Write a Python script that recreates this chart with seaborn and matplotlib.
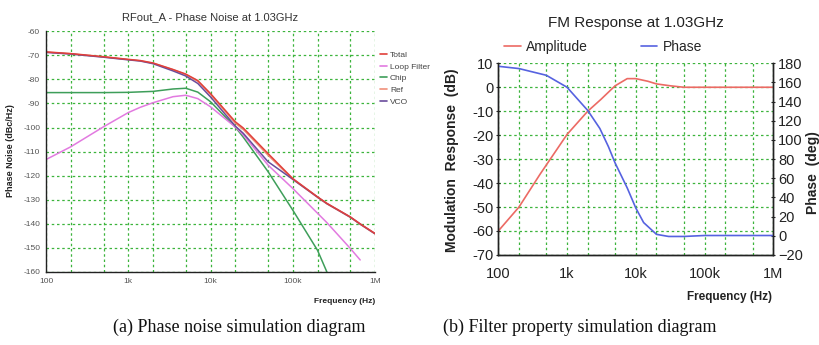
import seaborn as sns
import matplotlib.pyplot as plt
import numpy as np
import pandas as pd
from matplotlib.ticker import FixedLocator, NullFormatter
from matplotlib.lines import Line2D

# ---- data: phase noise (dBc/Hz) vs offset frequency (Hz)
pn_freq = [100, 200, 500, 1000, 1400, 2000, 3500, 5000, 7000, 10000, 20000,
           25000, 50000, 100000, 200000, 260000, 500000, 660000, 1000000]
pn_total = [-68.6, -69.3, -70.6, -71.7, -72.2, -73.2, -75.9, -77.8, -80.5, -85.9,
            -97.6, -100.2, -110.8, -121.2, -128.8, -131.5, -137.1, -140.0, -144.0]
pn_loop = [-113.3, -108.0, -99.7, -93.8, -91.6, -89.7, -87.2, -86.6, -88.0, -91.4,
           -99.8, -103.0, -115.6, -125.3, -135.6, -139.5, -150.2, -155.0, None]
pn_chip = [-85.5, -85.5, -85.5, -85.4, -85.2, -85.0, -84.0, -83.7, -85.3, -89.3,
           -99.8, -104.0, -118.3, -134.3, -151.0, -160.0, None, None, None]
pn_ref = [-68.7, -69.4, -70.7, -71.8, -72.3, -73.3, -76.0, -78.0, -80.8, -86.3,
          -98.2, -100.8, -111.5, -121.5, -129.0, -131.7, -137.3, -140.2, -144.2]
pn_vco = [-68.8, -69.5, -70.8, -71.9, -72.4, -73.5, -76.5, -78.6, -81.7, -87.3,
          -99.4, -102.4, -114.2, -121.5, -128.9, -131.6, -137.2, -140.1, -144.1]
pn_names = ["Total", "Loop Filter", "Chip", "Ref", "VCO"]
pn_colors = ["#e0403a", "#e27ae0", "#3e9e5a", "#f0907a", "#6a4c9c"]

# ---- data: FM response
fm_freq = [100, 200, 405, 1000, 2000, 3100, 5000, 7500, 10000, 15000, 20000,
           32000, 50000, 100000, 1000000]
fm_amp = [-60.0, -50.0, -36.3, -19.7, -10.0, -5.1, 0.6, 3.6, 3.6, 2.5, 1.4,
          0.6, 0.0, 0.0, 0.0]
ph_freq = [100, 200, 500, 1000, 2000, 3000, 4000, 5000, 7500, 10000, 13000,
           20000, 30000, 50000, 100000, 1000000]
fm_phase = [176.9, 174.5, 167.5, 155.0, 130.8, 112.0, 93.0, 76.0, 50.0, 29.0,
            13.8, 1.5, -0.7, -0.7, 0.3, 0.3]

rows = []
for name, vals in zip(pn_names, [pn_total, pn_loop, pn_chip, pn_ref, pn_vco]):
    for f, v in zip(pn_freq, vals):
        if v is not None:
            rows.append({"freq": f, "noise": v, "curve": name})
pn = pd.DataFrame(rows)
amp = pd.DataFrame({"freq": fm_freq, "amp": fm_amp})
pha = pd.DataFrame({"freq": ph_freq, "phase": fm_phase})

sns.set_style("white")
narrow = ["Liberation Sans Narrow", "Liberation Sans", "DejaVu Sans"]
plt.rcParams["font.family"] = narrow

fig = plt.figure(figsize=(8.19, 3.45), dpi=100)
grid_kw = dict(color="#3cb43c", linestyle=(0, (2, 2.2)), linewidth=0.9)
xt = [100, 1000, 10000, 100000, 1000000]
xl = ["100", "1k", "10k", "100k", "1M"]
minors = [200, 500, 2000, 5000, 20000, 50000, 200000, 500000]


def freq_axis(a):
    a.set_xlim(100, 1e6)
    a.xaxis.set_major_locator(FixedLocator(xt))
    a.set_xticklabels(xl)
    a.xaxis.set_minor_locator(FixedLocator(minors))
    a.xaxis.set_minor_formatter(NullFormatter())


# ---------------- left: phase noise
ax = fig.add_axes([0.0562, 0.2116, 0.4017, 0.698])
ax.set_xscale("log")
draw_order = ["Ref", "Chip", "Loop Filter", "VCO", "Total"]
for name in draw_order:
    c = pn_colors[pn_names.index(name)]
    sns.lineplot(data=pn[pn["curve"] == name], x="freq", y="noise", color=c,
                 lw=1.1, ax=ax, legend=False)
freq_axis(ax)
ax.set_ylim(-160, -60)
ax.set_yticks(np.arange(-160, -59, 10))
ax.yaxis.set_major_formatter(plt.FuncFormatter(lambda v, p: f"{int(v)}"))
ax.grid(True, which="both", **grid_kw)
ax.tick_params(axis="both", which="both", labelsize=6, colors="#555555",
               length=2.5, width=0.8, direction="inout", pad=3)
for s in ["top", "right"]:
    ax.spines[s].set_visible(False)
for s in ["left", "bottom"]:
    ax.spines[s].set_color("#222222")
    ax.spines[s].set_linewidth(1.0)
ax.set_xlabel("")
ax.set_ylabel("")
ax.set_title("RFout_A - Phase Noise at 1.03GHz", fontsize=8, color="#333333", pad=8)
handles = [Line2D([0], [0], color=c, lw=1.2) for c in pn_colors]
leg = ax.legend(handles, pn_names, loc="upper left", bbox_to_anchor=(1.005, 0.93),
                frameon=False, fontsize=6, handlelength=0.8, handletextpad=0.4,
                labelspacing=0.45, borderaxespad=0)
for t in leg.get_texts():
    t.set_color("#444444")
fig.text(0.013, 0.565, "Phase Noise (dBc/Hz)", rotation=90, ha="center",
         va="center", fontsize=6.5, fontweight="bold", color="#222222",
         family=["Liberation Sans", "DejaVu Sans"])
fig.text(0.458, 0.125, "Frequency (Hz)", ha="right", va="center", fontsize=6,
         fontweight="bold", color="#222222", family=["Liberation Sans", "DejaVu Sans"])

# ---------------- right: FM response
bx = fig.add_axes([0.6084, 0.261, 0.3358, 0.5555])
bx.set_xscale("log")
sns.lineplot(data=amp, x="freq", y="amp", color="#ec6a64", lw=1.2, ax=bx)
bx2 = bx.twinx()
sns.lineplot(data=pha, x="freq", y="phase", color="#5662e0", lw=1.2, ax=bx2)
freq_axis(bx)
bx.set_ylim(-70, 10)
bx.set_yticks(np.arange(-70, 11, 10))
bx.yaxis.set_major_formatter(plt.FuncFormatter(lambda v, p: f"{int(v)}"))
bx.grid(True, which="both", **grid_kw)
bx.tick_params(axis="y", labelsize=10.5, colors="#222222",
               length=3, width=0.8, direction="inout", pad=2)
bx.tick_params(axis="x", which="both", labelsize=10.5, colors="#222222",
               length=3, width=0.8, direction="inout", pad=7)
bx.set_xlabel("")
bx.set_ylabel("")
bx2.set_ylim(-20, 180)
bx2.set_yticks(np.arange(-20, 181, 20))
bx2.set_ylabel("")
bx2.tick_params(axis="y", labelsize=10.5, colors="#222222", length=3, width=0.8,
                direction="inout", pad=2)
for a in [bx, bx2]:
    a.spines["top"].set_visible(False)
    for s in ["left", "bottom", "right"]:
        a.spines[s].set_color("#222222")
        a.spines[s].set_linewidth(1.0)
bx.set_title("FM Response at 1.03GHz", fontsize=11, color="#222222", pad=26)
h2 = [Line2D([0], [0], color="#ec6a64", lw=1.2), Line2D([0], [0], color="#5662e0", lw=1.2)]
bx.legend(h2, ["Amplitude", "Phase"], loc="lower left", bbox_to_anchor=(0.0, 1.02),
          ncol=2, frameon=False, fontsize=10, handlelength=1.2, handletextpad=0.4,
          columnspacing=3.8, borderaxespad=0)
fig.text(0.552, 0.535, "Modulation  Response  (dB)", rotation=90, ha="center",
         va="center", fontsize=10, fontweight="bold", color="#222222",
         family=["Liberation Sans", "DejaVu Sans"])
fig.text(0.993, 0.5, "Phase  (deg)", rotation=90, ha="center", va="center",
         fontsize=10, fontweight="bold", color="#222222",
         family=["Liberation Sans", "DejaVu Sans"])
fig.text(0.943, 0.138, "Frequency (Hz)", ha="right", va="center", fontsize=8.5,
         fontweight="bold", color="#222222")

# captions
serif = ["Liberation Serif", "DejaVu Serif"]
fig.text(0.292, 0.05, "(a) Phase noise simulation diagram", ha="center",
         va="center", fontsize=13, family=serif, color="#111111")
fig.text(0.708, 0.05, "(b) Filter property simulation diagram", ha="center",
         va="center", fontsize=13, family=serif, color="#111111")

fig.savefig("out.png", dpi=100)
